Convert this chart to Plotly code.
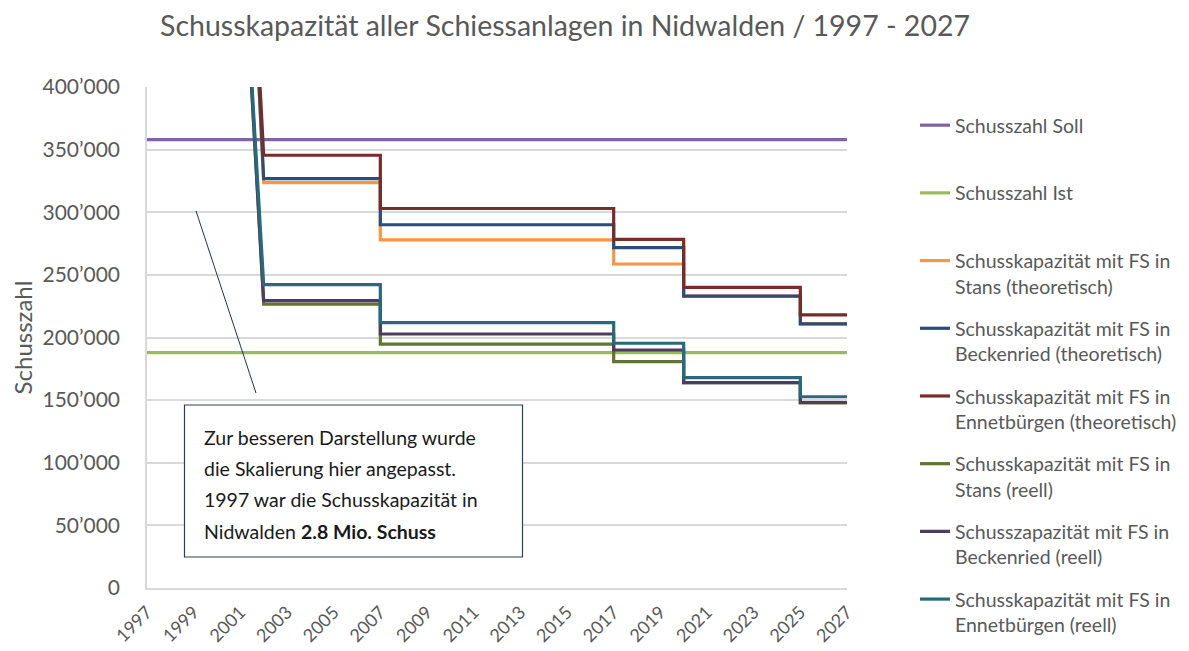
import plotly.graph_objects as go

# ---------------- data ----------------
years_ticks = list(range(1997, 2028, 2))
x_range = [1997, 2027]

soll_value = 358000
ist_value = 188000

# years where the capacity changes (first value = last value before the 2002 drop)
change_years = [2001, 2002, 2007, 2017, 2020, 2025]
end_year = 2027

stans_theor = [700000, 323600, 278000, 258700, 233000, 210800]
beckenried_theor = [700000, 326800, 290000, 271700, 233000, 210800]
ennetbuergen_theor = [700000, 345500, 303000, 278400, 240000, 218000]
stans_reell = [560000, 226700, 194700, 180700, 163900, 148000]
beckenried_reell = [560000, 229400, 202800, 190000, 163900, 148000]
ennetbuergen_reell = [560000, 242200, 211800, 195400, 167900, 152700]

series_names = [
    "Schusszahl Soll",
    "Schusszahl Ist",
    "Schusskapazität mit FS in<br>Stans (theoretisch)",
    "Schusskapazität mit FS in<br>Beckenried (theoretisch)",
    "Schusskapazität mit FS in<br>Ennetbürgen (theoretisch)",
    "Schusskapazität mit FS in<br>Stans (reell)",
    "Schusszapazität mit FS in<br>Beckenried (reell)",
    "Schusskapazität mit FS in<br>Ennetbürgen (reell)",
]
colors = ["#8064A2", "#9BBB59", "#F79646", "#2C4D75", "#772C2A",
          "#5F7530", "#4D3B62", "#276A7C"]

FONT = "Lato"
GREY = "#595959"


def step_path(years, values, last_year):
    """first segment sloped (1 year), then vertical steps"""
    xs = [years[0], years[1]]
    ys = [values[0], values[1]]
    prev = values[1]
    for yr, v in zip(years[2:], values[2:]):
        xs += [yr, yr]
        ys += [prev, v]
        prev = v
    xs.append(last_year)
    ys.append(prev)
    return xs, ys


fig = go.Figure()

fig.add_trace(go.Scatter(x=x_range, y=[soll_value, soll_value], mode="lines",
                         name=series_names[0] + "<br> ", legendgroup="g0",
                         line=dict(color=colors[0], width=3.2)))
fig.add_trace(go.Scatter(x=x_range, y=[ist_value, ist_value], mode="lines",
                         name=series_names[1] + "<br> ", legendgroup="g1",
                         line=dict(color=colors[1], width=3.2)))

cap_series = [stans_theor, beckenried_theor, ennetbuergen_theor,
              stans_reell, beckenried_reell, ennetbuergen_reell]
for i, vals in enumerate(cap_series):
    xs, ys = step_path(change_years, vals, end_year)
    fig.add_trace(go.Scatter(x=xs, y=ys, mode="lines",
                             name=series_names[i + 2], legendgroup=f"g{i+2}",
                             line=dict(color=colors[i + 2], width=3.2)))

# ---------------- layout ----------------
OFF = 8  # page body margin
FW, FH = 1189 - OFF, 651 - OFF
L, T = 147 - OFF, 87 - OFF
W, H = 700, 501
R, B = FW - L - W, FH - T - H

fig.update_layout(
    width=FW, height=FH,
    margin=dict(l=L, r=R, t=T, b=B, autoexpand=False),
    paper_bgcolor="white", plot_bgcolor="white",
    font=dict(family=FONT, color=GREY),
    title=dict(text="Schusskapazität aller Schiessanlagen in Nidwalden / 1997 - 2027",
               x=(565 - OFF) / FW, xref="container", xanchor="center",
               y=1 - (26 - OFF) / FH, yref="container", yanchor="middle",
               font=dict(size=28.5, color=GREY, family=FONT)),
    legend=dict(x=(915 - OFF) / FW, xanchor="left", xref="container",
                y=1 - (106 - OFF) / FH, yanchor="top", yref="container",
                font=dict(size=19.5, color=GREY, family=FONT),
                tracegroupgap=14, valign="top", bgcolor="rgba(0,0,0,0)",
                maxheight=620),
    showlegend=True,
)

fig.update_xaxes(range=x_range, tickmode="array", tickvals=years_ticks,
                 ticktext=[str(y) for y in years_ticks], tickangle=-45,
                 tickfont=dict(size=18, color=GREY, family=FONT),
                 ticklabelstandoff=5,
                 showgrid=False, showline=True, linecolor="#d9d9d9", linewidth=1.5,
                 ticks="", zeroline=False)

y_ticks = list(range(0, 400001, 50000))
y_text = ["0" if v == 0 else f"{v // 1000}’000" for v in y_ticks]
fig.update_yaxes(range=[0, 400000], tickmode="array", tickvals=y_ticks, ticktext=y_text,
                 tickfont=dict(size=21, color=GREY, family=FONT),
                 ticklabelstandoff=21,
                 showgrid=True, gridcolor="#d9d9d9", gridwidth=1.5,
                 showline=True, linecolor="#d9d9d9", linewidth=1.5,
                 zeroline=False, ticks="",
                 title=dict(text="Schusszahl", font=dict(size=24, color=GREY, family=FONT),
                            standoff=20))

# ---------------- annotation box ----------------


def px(xp):
    return (xp - OFF - L) / W


def py(yp):
    return (T + H - (yp - OFF)) / H


fig.add_shape(type="line", xref="paper", yref="paper",
              x0=px(196), y0=py(211), x1=px(256), y1=py(393),
              line=dict(color="#1F3350", width=1))
fig.add_shape(type="rect", xref="paper", yref="paper",
              x0=px(184.5), y0=py(557), x1=px(522.5), y1=py(405),
              line=dict(color="#2E4057", width=1.2), fillcolor="white")

box_lines = [
    "Zur besseren Darstellung wurde",
    "die Skalierung hier angepasst.",
    "1997 war die Schusskapazität in",
    "Nidwalden <b>2.8 Mio. Schuss</b>",
]
box_line_y = [437, 468, 499, 531]
for txt, yy in zip(box_lines, box_line_y):
    fig.add_annotation(text=txt, xref="paper", yref="paper",
                       x=px(202), y=py(yy), xanchor="left", yanchor="middle",
                       showarrow=False, align="left",
                       font=dict(size=19.5, color="#1a1a1a", family=FONT))

fig.write_html("out.html")
